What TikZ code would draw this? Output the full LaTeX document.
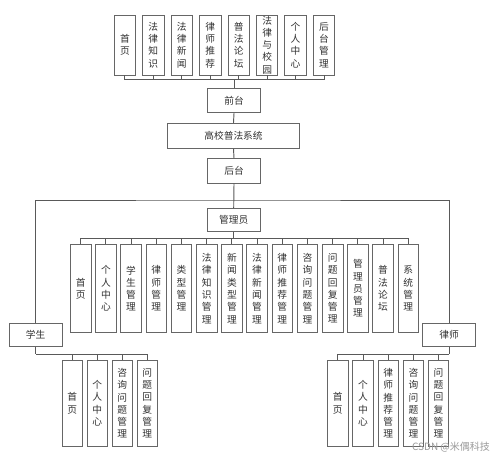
\documentclass[tikz,border=0pt]{standalone}
\usepackage{fontspec}
\newfontfamily\cjk{Noto Sans CJK SC}
\begin{document}
\begin{tikzpicture}[x=0.75pt,y=-0.75pt,
  base/.style={draw=black!60,line width=0.6pt,fill=white,inner sep=0pt,align=center,
    text=black!80,font={\cjk\fontsize{7.3}{9.2}\selectfont}},
  topbox/.style={base,minimum width=16.1pt,minimum height=45pt},
  hbox/.style={base,minimum width=40pt,minimum height=18.3pt},
  sysbox/.style={base,minimum width=98.7pt,minimum height=18.75pt},
  mbox/.style={base,minimum width=15.4pt,minimum height=66.3pt},
  leaf/.style={base,minimum width=15.3pt,minimum height=65pt},
  conn/.style={draw=black!65,line width=0.7pt}]
\useasboundingbox (0,0) rectangle (499,458);
% top row
\node[topbox] (t1) at (124.9,45) {首\\页};
\node[topbox] (t2) at (153.35,45) {法\\律\\知\\识};
\node[topbox] (t3) at (181.8,45) {法\\律\\新\\闻};
\node[topbox] (t4) at (210.25,45) {律\\师\\推\\荐};
\node[topbox] (t5) at (238.7,45) {普\\法\\论\\坛};
\node[topbox] (t6) at (267.15,45) {法\\律\\与\\校\\园};
\node[topbox] (t7) at (295.6,45) {个\\人\\中\\心};
\node[topbox] (t8) at (324.05,45) {后\\台\\管\\理};
\coordinate (topbus) at (234,79.3);
\node[hbox] (front) at (234,100.5) {前台};
\node[sysbox] (sys) at (233.5,135.8) {高校普法系统};
\node[hbox] (back) at (234,170.8) {后台};
\coordinate (bigbus) at (234,200);
\node[hbox,minimum width=39.5pt,minimum height=17.5pt] (mgr) at (233.7,220) {管理员};
\coordinate (mbus) at (233.7,238.3);
% manager boxes
\foreach \i/\x/\t in {1/80.7/{首\\页},2/105.9/{个\\人\\中\\心},3/131.1/{学\\生\\管\\理},
  4/156.3/{律\\师\\管\\理},5/181.5/{类\\型\\管\\理},6/206.7/{法\\律\\知\\识\\管\\理},
  7/231.9/{新\\闻\\类\\型\\管\\理},8/257.1/{法\\律\\新\\闻\\管\\理},9/282.3/{律\\师\\推\\荐\\管\\理},
  10/307.5/{咨\\询\\问\\题\\管\\理},11/332.7/{问\\题\\回\\复\\管\\理},12/357.9/{管\\理\\员\\管\\理},
  13/383.1/{普\\法\\论\\坛},14/408.3/{系\\统\\管\\理}}
  {\node[mbox] (m\i) at (\x,288.5) {\t};}
\node[hbox,minimum height=17.5pt] (stu) at (35.7,335) {学生};
\node[hbox,minimum height=17.5pt] (law) at (449,335) {律师};
\coordinate (sbus) at (35.7,354.3);
\coordinate (lbus) at (449,354.3);
\foreach \i/\x/\t in {1/72.3/{首\\页},2/97.3/{个\\人\\中\\心},3/122.3/{咨\\询\\问\\题\\管\\理},4/147.3/{问\\题\\回\\复\\管\\理}}
  {\node[leaf] (s\i) at (\x,403.3) {\t};}
\foreach \i/\x/\t in {1/337.8/{首\\页},2/363/{个\\人\\中\\心},3/388.2/{律\\师\\推\\荐\\管\\理},4/413.4/{咨\\询\\问\\题\\管\\理},5/438.6/{问\\题\\回\\复\\管\\理}}
  {\node[leaf] (l\i) at (\x,403.3) {\t};}
% connectors
\foreach \i in {1,...,8} {\draw[conn] (t\i.south) |- (topbus);}
\draw[conn] (topbus) -- (front.north);
\draw[conn] (front.south) -- (sys.north);
\draw[conn] (sys.south) -- (back.north);
\draw[conn] (back.south) -- (mgr.north);
\draw[conn] (stu.north) |- (bigbus) -| (law.north);
\draw[conn] (mgr.south) -- (mbus);
\foreach \i in {1,...,14} {\draw[conn] (m\i.north) |- (mbus);}
\draw[conn] (stu.south) -- (sbus);
\foreach \i in {1,...,4} {\draw[conn] (s\i.north) |- (sbus);}
\draw[conn] (law.south) -- (lbus);
\foreach \i in {1,...,5} {\draw[conn] (l\i.north) |- (lbus);}
% watermark
\node[text=black!40,font={\cjk\fontsize{7.5}{9}\selectfont},inner sep=0pt] (wm) at (451,447) {CSDN @米偶科技};
\end{tikzpicture}
\end{document}
